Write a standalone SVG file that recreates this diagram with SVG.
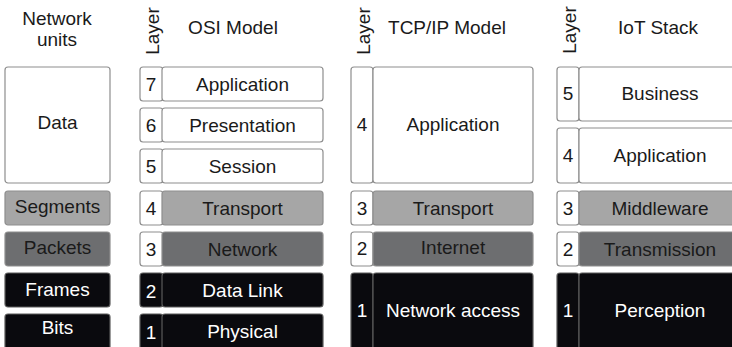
<svg xmlns="http://www.w3.org/2000/svg" width="732" height="347" viewBox="0 0 732 347">
<style>
rect{stroke:#8e8e8e;stroke-width:1.2}
.w{fill:#ffffff}
.lg{fill:#a6a6a6}
.dg{fill:#6d6e70}
.bk{fill:#0a0a0e;stroke:#5a5a5a}
text{font-family:"Liberation Sans",Arial,sans-serif;font-size:19px;fill:#1a1a1a;text-anchor:middle}
.t{fill:#ffffff}
.h{font-size:19px}
</style>
<rect x="0" y="0" width="732" height="347" fill="#ffffff" style="stroke:none"/>
<g id="headers">
<text x="57" y="25">Network</text>
<text x="57" y="46">units</text>
<text transform="translate(159,31) rotate(-90)">Layer</text>
<text x="233" y="34">OSI Model</text>
<text transform="translate(370,31) rotate(-90)">Layer</text>
<text x="447" y="34">TCP/IP Model</text>
<text transform="translate(576,30) rotate(-90)">Layer</text>
<text x="658" y="34">IoT Stack</text>
</g>
<g id="units">
<g id="unit-data"><rect class="w" x="5" y="67" width="105" height="116" rx="3"/><text x="57.5" y="129">Data</text></g>
<g id="unit-segments"><rect class="lg" x="5" y="191" width="105" height="34" rx="3"/><text x="57.5" y="213">Segments</text></g>
<g id="unit-packets"><rect class="dg" x="5" y="232" width="105" height="34" rx="3"/><text x="57.5" y="254">Packets</text></g>
<g id="unit-frames"><rect class="bk" x="5" y="273" width="105" height="34" rx="3"/><text class="t" x="57.5" y="296">Frames</text></g>
<g id="unit-bits"><rect class="bk" x="5" y="314" width="105" height="40" rx="3"/><text class="t" x="57.5" y="334">Bits</text></g>
</g>
<g id="osi">
<g id="osi-7"><rect class="w" x="140" y="67" width="23" height="34" rx="3"/><rect class="w" x="162" y="67" width="161" height="34" rx="3"/><text x="151" y="91">7</text><text x="242.5" y="91">Application</text></g>
<g id="osi-6"><rect class="w" x="140" y="108" width="23" height="34" rx="3"/><rect class="w" x="162" y="108" width="161" height="34" rx="3"/><text x="151" y="132">6</text><text x="242.5" y="132">Presentation</text></g>
<g id="osi-5"><rect class="w" x="140" y="149" width="23" height="34" rx="3"/><rect class="w" x="162" y="149" width="161" height="34" rx="3"/><text x="151" y="173">5</text><text x="242.5" y="173">Session</text></g>
<g id="osi-4"><rect class="w" x="140" y="191" width="23" height="34" rx="3"/><rect class="lg" x="162" y="191" width="161" height="34" rx="3"/><text x="151" y="215">4</text><text x="242.5" y="215">Transport</text></g>
<g id="osi-3"><rect class="w" x="140" y="232" width="23" height="34" rx="3"/><rect class="dg" x="162" y="232" width="161" height="34" rx="3"/><text x="151" y="256">3</text><text x="242.5" y="256">Network</text></g>
<g id="osi-2"><rect class="bk" x="140" y="273" width="23" height="34" rx="3"/><rect class="bk" x="162" y="273" width="161" height="34" rx="3"/><text class="t" x="151" y="298">2</text><text class="t" x="242.5" y="297">Data Link</text></g>
<g id="osi-1"><rect class="bk" x="140" y="314" width="23" height="40" rx="3"/><rect class="bk" x="162" y="314" width="161" height="40" rx="3"/><text class="t" x="151" y="339">1</text><text class="t" x="242.5" y="338">Physical</text></g>
</g>
<g id="tcpip">
<g id="tcp-4"><rect class="w" x="351" y="67" width="22" height="116" rx="3"/><rect class="w" x="373" y="67" width="160" height="116" rx="3"/><text x="362" y="131">4</text><text x="453" y="131">Application</text></g>
<g id="tcp-3"><rect class="w" x="351" y="191" width="22" height="34" rx="3"/><rect class="lg" x="373" y="191" width="160" height="34" rx="3"/><text x="362" y="215">3</text><text x="453" y="215">Transport</text></g>
<g id="tcp-2"><rect class="w" x="351" y="232" width="22" height="34" rx="3"/><rect class="dg" x="373" y="232" width="160" height="34" rx="3"/><text x="362" y="255">2</text><text x="453" y="254">Internet</text></g>
<g id="tcp-1"><rect class="bk" x="351" y="273" width="22" height="80" rx="3"/><rect class="bk" x="373" y="273" width="160" height="80" rx="3"/><text class="t" x="362" y="317">1</text><text class="t" x="453" y="317">Network access</text></g>
</g>
<g id="iot">
<g id="iot-5"><rect class="w" x="557" y="67" width="22" height="54" rx="3"/><rect class="w" x="579" y="67" width="162" height="54" rx="3"/><text x="568" y="100">5</text><text x="660" y="100">Business</text></g>
<g id="iot-4"><rect class="w" x="557" y="128" width="22" height="55" rx="3"/><rect class="w" x="579" y="128" width="162" height="55" rx="3"/><text x="568" y="162">4</text><text x="660" y="162">Application</text></g>
<g id="iot-3"><rect class="w" x="557" y="191" width="22" height="34" rx="3"/><rect class="lg" x="579" y="191" width="162" height="34" rx="3"/><text x="568" y="215">3</text><text x="660" y="215">Middleware</text></g>
<g id="iot-2"><rect class="w" x="557" y="232" width="22" height="34" rx="3"/><rect class="dg" x="579" y="232" width="162" height="34" rx="3"/><text x="568" y="256">2</text><text x="660" y="256">Transmission</text></g>
<g id="iot-1"><rect class="bk" x="557" y="273" width="22" height="80" rx="3"/><rect class="bk" x="579" y="273" width="162" height="80" rx="3"/><text class="t" x="568" y="317">1</text><text class="t" x="660" y="317">Perception</text></g>
</g>
<g id="connectors"/>
</svg>
